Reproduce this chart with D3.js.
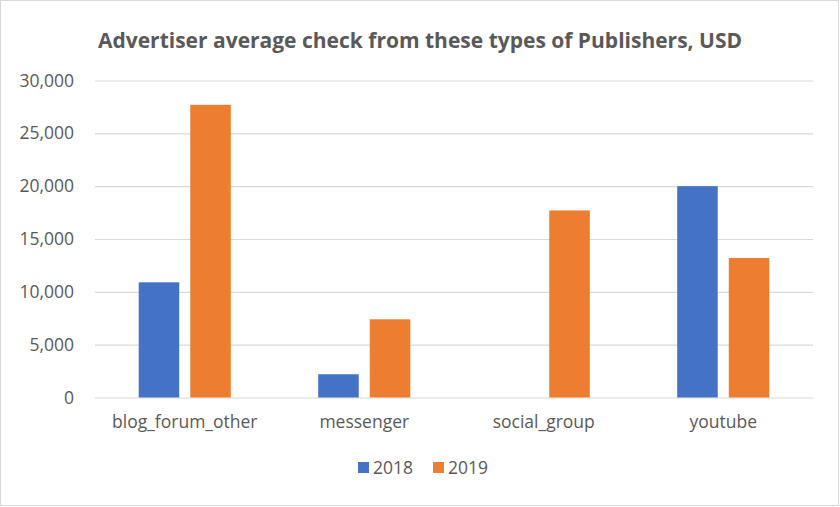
<!DOCTYPE html>
<html><head><meta charset="utf-8">
<script src="https://cdn.jsdelivr.net/npm/d3@7"></script>
<style>
html,body{margin:0;padding:0;background:#fff;}
svg{display:block;font-family:"Open Sans",sans-serif;}
</style></head>
<body><svg id="c" width="840" height="507"></svg>
<script>
const title = "Advertiser average check from these types of Publishers, USD";
const categories = ["blog_forum_other","messenger","social_group","youtube"];
const seriesNames = ["2018","2019"];
const values2018 = [10900, 2200, 0, 20000];
const values2019 = [27700, 7400, 17700, 13200];
const yTicks = [0,5000,10000,15000,20000,25000,30000];
const colors = ["#4472C4","#ED7D31"];

const svg = d3.select("#c");
const W = 840, H = 507;
const m = {left:95, right:27, top:80.5, bottom:109.5};
const pw = W - m.left - m.right, ph = H - m.top - m.bottom;

svg.append("rect").attr("x",0.5).attr("y",0.5).attr("width",W-2).attr("height",H-2)
  .attr("fill","#fff").attr("stroke","#D9D9D9");

svg.append("text").attr("x",420).attr("y",48).attr("text-anchor","middle")
  .attr("font-size",21).attr("font-weight","bold").attr("fill","#595959")
  .text(title);

const g = svg.append("g").attr("transform",`translate(${m.left},${m.top})`);
const y = d3.scaleLinear().domain([0,30000]).range([ph,0]);
const x0 = d3.scaleBand().domain(categories).range([0,pw]).paddingInner(0.487).paddingOuter(0.2435);
const x1 = d3.scaleBand().domain(seriesNames).range([0,x0.bandwidth()]).paddingInner(0.214);

const yAxis = d3.axisLeft(y).tickValues(yTicks).tickSize(-pw).tickPadding(21)
  .tickFormat(d3.format(","));
const ya = g.append("g").call(yAxis);
ya.select(".domain").remove();
ya.selectAll(".tick line").attr("stroke","#D9D9D9").attr("stroke-width",1.2);
ya.selectAll(".tick text").attr("fill","#595959").attr("font-size",17.5).attr("font-family","Open Sans");

const data = categories.map((c,i)=>({cat:c, vals:[values2018[i], values2019[i]]}));
const grp = g.selectAll(".grp").data(data).join("g").attr("transform",d=>`translate(${x0(d.cat)},0)`);
grp.selectAll("rect").data(d=>d.vals.map((v,j)=>({s:seriesNames[j], v, j})).filter(e=>e.v>0))
  .join("rect")
  .attr("x",d=>x1(d.s)).attr("width",x1.bandwidth())
  .attr("y",d=>y(d.v)).attr("height",d=>ph-y(d.v))
  .attr("fill",d=>colors[d.j]);

const xAxis = d3.axisBottom(x0).tickSize(0).tickPadding(18);
const xa = g.append("g").attr("transform",`translate(0,${ph})`).call(xAxis);
xa.select(".domain").remove();
xa.selectAll(".tick text").attr("fill","#595959").attr("font-size",17.5).attr("font-family","Open Sans");

const leg = svg.append("g");
const legX = [358, 433];
seriesNames.forEach((s,i)=>{
  leg.append("rect").attr("x",legX[i]).attr("y",462).attr("width",11).attr("height",11).attr("fill",colors[i]);
  leg.append("text").attr("x",legX[i]+15).attr("y",474).attr("font-size",17.5).attr("fill","#595959").text(s);
});
</script></body></html>
